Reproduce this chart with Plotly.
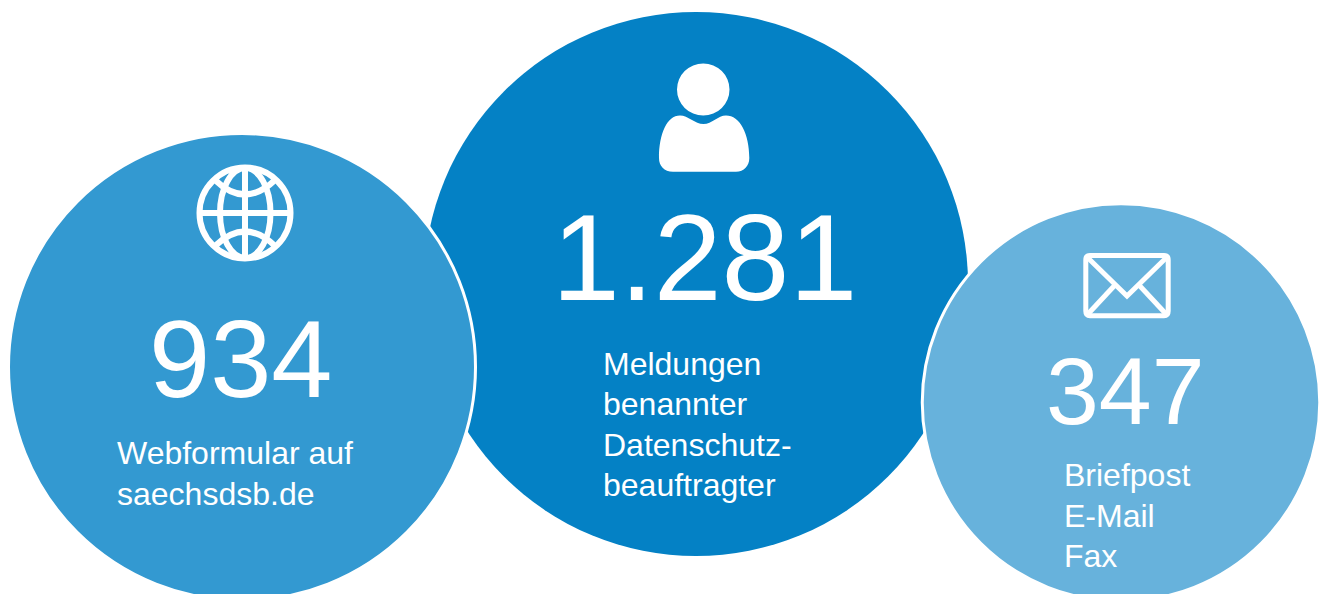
import plotly.graph_objects as go

# Circle data (drawing order: middle first, the others overlap it)
bubble_names = ["Meldungen", "Webformular", "Briefpost"]
bubble_x = [696, 242, 1121]
bubble_y = [284, 367, 402.5]
bubble_diameter = [544, 467, 397.5]
bubble_colors = ["#0481C5", "#3399D1", "#67B2DC"]
bubble_line = [0, 3, 3]

counts = ["1.281", "934", "347"]
count_x = [704.5, 241, 1125]
count_y = [258, 358.5, 391]
count_size = [122, 110, 95]

label_lines = [
    ["Meldungen", "benannter", "Datenschutz-", "beauftragter"],
    ["Webformular auf", "saechsdsb.de"],
    ["Briefpost", "E-Mail", "Fax"],
]
label_x = [603, 117, 1064]
label_first_y = [363.5, 453, 475]
label_step = [40.6, 41, 40.6]
label_size = [32, 32, 32]

FONT = "Liberation Sans, Arial, sans-serif"

fig = go.Figure()
fig.add_trace(go.Scatter(
    x=bubble_x, y=bubble_y, mode="markers", text=bubble_names, hoverinfo="text",
    marker=dict(size=bubble_diameter, sizemode="diameter", color=bubble_colors, opacity=1,
                line=dict(color="white", width=bubble_line)),
    showlegend=False, cliponaxis=True,
))

annotations = []
for t, x, y, s in zip(counts, count_x, count_y, count_size):
    annotations.append(dict(x=x, y=y, text=t, showarrow=False, xanchor="center", yanchor="middle",
                            font=dict(family=FONT, size=s, color="white")))
for lines, x, y0, step, s in zip(label_lines, label_x, label_first_y, label_step, label_size):
    for i, line in enumerate(lines):
        annotations.append(dict(x=x, y=y0 + i * step, text=line, showarrow=False, xanchor="left",
                                yanchor="middle", xshift=-2,
                                font=dict(family=FONT, size=s, color="white")))

WHITE_LINE = dict(color="white", width=6)
ENV_LINE = dict(color="white", width=5)
shapes = [
    # Globe
    dict(type="circle", x0=199.5, x1=290.5, y0=167.5, y1=258.5, line=WHITE_LINE),
    dict(type="line", x0=200, x1=290, y0=213, y1=213, line=WHITE_LINE),
    dict(type="line", x0=245, x1=245, y0=168, y1=258, line=WHITE_LINE),
    dict(type="circle", x0=220, x1=270.5, y0=168, y1=258, line=WHITE_LINE),
    dict(type="path", path="M 215,180 Q 245,209 275,180", line=WHITE_LINE),
    dict(type="path", path="M 215,246 Q 245,217 275,246", line=WHITE_LINE),
    # Person
    dict(type="circle", x0=677, x1=729.5, y0=63.5, y1=115.5, fillcolor="white", line=dict(width=0)),
    dict(type="path", fillcolor="white", line=dict(width=0),
         path="M 703.5,124 C 695,124 688,115.5 680,115.5 C 667,115.5 659,134 659,158 "
              "C 659,166 664,171.7 673,171.7 L 736,171.7 C 744,171.7 749.3,166 749.3,158 "
              "C 749.3,134 740,115.5 726,115.5 C 718,115.5 712,124 703.5,124 Z"),
    # Envelope
    dict(type="path", line=ENV_LINE,
         path="M 1090,255.5 L 1164,255.5 Q 1168.2,255.5 1168.2,260 L 1168.2,311 Q 1168.2,315.8 1164,315.8 "
              "L 1090,315.8 Q 1085.8,315.8 1085.8,311 L 1085.8,260 Q 1085.8,255.5 1090,255.5 Z"),
    dict(type="path", line=ENV_LINE, path="M 1087,257 L 1127,296 L 1167,257"),
    dict(type="line", x0=1088, y0=314, x1=1115, y1=285, line=ENV_LINE),
    dict(type="line", x0=1166, y0=314, x1=1139, y1=285, line=ENV_LINE),
]

fig.update_layout(
    width=1325, height=594, margin=dict(l=0, r=0, t=0, b=0),
    paper_bgcolor="white", plot_bgcolor="white", showlegend=False,
    xaxis=dict(range=[0, 1325], visible=False, fixedrange=True),
    yaxis=dict(range=[594, 0], visible=False, fixedrange=True),
    annotations=annotations, shapes=shapes,
)
fig.write_html("out.html", config=dict(displayModeBar=False),
               post_script="document.body.style.margin='0';document.documentElement.style.overflow='hidden';")
